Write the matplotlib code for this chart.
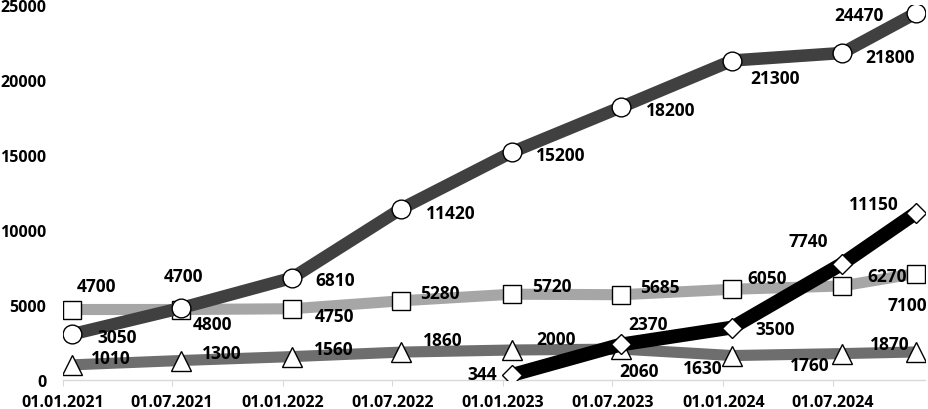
import matplotlib
matplotlib.use("Agg")
import matplotlib.pyplot as plt
import pandas as pd

# ---- data ----
periods = ['2021-01', '2021-07', '2022-01', '2022-07', '2023-01',
           '2023-07', '2024-01', '2024-07', '2024-11']
circles = [3050, 4800, 6810, 11420, 15200, 18200, 21300, 21800, 24470]
squares = [4700, 4700, 4750, 5280, 5720, 5685, 6050, 6270, 7100]
triangles = [1010, 1300, 1560, 1860, 2000, 2060, 1630, 1760, 1870]
diamond_periods = ['2023-01', '2023-07', '2024-01', '2024-07', '2024-11']
diamonds = [344, 2370, 3500, 7740, 11150]
tick_dates = ['2021-01-01', '2021-07-01', '2022-01-01', '2022-07-01',
              '2023-01-01', '2023-07-01', '2024-01-01', '2024-07-01']
tick_labels = ['01.01.2021', '01.07.2021', '01.01.2022', '01.07.2022',
               '01.01.2023', '01.07.2023', '01.01.2024', '01.07.2024']
y_ticks = [0, 5000, 10000, 15000, 20000, 25000]

# ---- label offsets (pixels) ----
circ_off = [(45, -1), (31, -14), (43, 0), (49, -2), (48, -1), (49, -1), (43, -16), (48, -2), (-57, 0)]
sq_off = [(24, 25), (2, 35), (42, -5), (39, 10), (40, 10), (39, 10), (35, 13), (45, 12), (-9, -30)]
tri_off = [(39, 9), (41, 9), (42, 10), (41, 14), (44, 13), (18, -20), (-30, -10), (-32, -9), (-26, 10)]
dia_off = [(-30, 3), (27, 22), (43, 0), (-34, 25), (-42, 11)]

plt.rcParams['font.family'] = ['Open Sans', 'DejaVu Sans']
plt.rcParams['font.weight'] = 'bold'

def mid(p):
    return pd.to_datetime([x + '-16' for x in p])

x = mid(periods)
xd = mid(diamond_periods)

fig = plt.figure(figsize=(9.29, 4.10), dpi=100)
ax = fig.add_axes([63 / 929, 29 / 410, 1 - 63 / 929 - 0.004, (410 - 6 - 29) / 410])

series = [
    (x, squares, '#a6a6a6', 8.0, 's', 13.5, sq_off),
    (x, triangles, '#6e6e6e', 8.0, '^', 14, tri_off),
    (x, circles, '#404040', 9.0, 'o', 13.5, circ_off),
    (xd, diamonds, '#000000', 10.0, 'D', 10.5, dia_off),
]
for i, (xx, yy, col, lw, mk, msz, offs) in enumerate(series):
    ax.plot(xx, yy, color=col, lw=lw, marker=mk, ms=msz, mfc='white',
            mec='black', mew=1.0, zorder=2 + i, solid_capstyle='butt')
    for xi, yi, (dx, dy) in zip(xx, yy, offs):
        ax.annotate(str(yi), (xi, yi), xytext=(dx, dy), textcoords='offset pixels',
                    ha='center', va='center_baseline', fontsize=12.5, fontweight='bold',
                    color='black', zorder=10, annotation_clip=False)

ax.set_xlim(pd.Timestamp('2021-01-01'), pd.Timestamp('2024-12-01'))
ax.set_ylim(0, 25000)
ax.set_xticks(pd.to_datetime(tick_dates))
ax.set_xticklabels(tick_labels, fontsize=11.5, fontweight='bold')
ax.set_yticks(y_ticks)
ax.set_yticklabels([str(v) for v in y_ticks], fontsize=11.5, fontweight='bold')

for s in ['top', 'right', 'left']:
    ax.spines[s].set_visible(False)
ax.spines['bottom'].set_color('#d9d9d9')
ax.spines['bottom'].set_linewidth(1.0)
ax.tick_params(axis='x', length=4, color='#d9d9d9', pad=6)
ax.tick_params(axis='y', length=0, pad=12)

fig.savefig('out.png', dpi=100)
